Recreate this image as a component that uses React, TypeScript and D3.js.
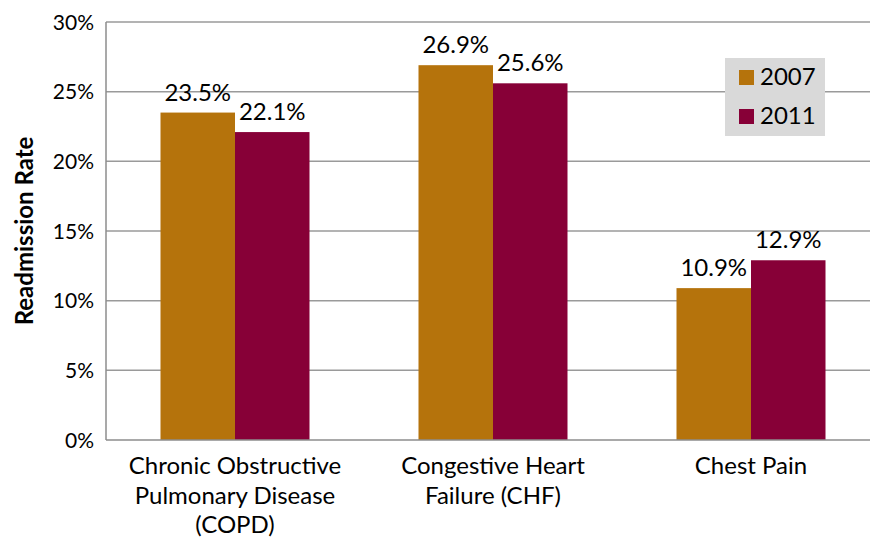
import React, { useEffect, useRef } from "react";
import * as d3 from "d3";

const categories = [
  ["Chronic Obstructive", "Pulmonary Disease", "(COPD)"],
  ["Congestive Heart", "Failure (CHF)"],
  ["Chest Pain"],
];
const seriesNames = ["2007", "2011"];
const values2007 = [23.5, 26.9, 10.9];
const values2011 = [22.1, 25.6, 12.9];
const yTicks = [0, 5, 10, 15, 20, 25, 30];
const colors = ["#b5730c", "#870037"];

const App = () => {
  const ref = useRef<HTMLDivElement>(null);

  useEffect(() => {
    const width = 870;
    const height = 538;
    const left = 106;
    const top = 22;
    const bottom = 440;
    const font = "Lato, 'Open Sans', sans-serif";

    d3.select(ref.current).select("svg").remove();

    const svg = d3
      .select(ref.current)
      .append("svg")
      .attr("width", width)
      .attr("height", height)
      .style("position", "absolute")
      .style("left", "0px")
      .style("top", "0px")
      .style("font-family", font);

    const keys = categories.map((c) => c.join(" "));
    const data = keys.map((k, i) => ({
      key: k,
      lines: categories[i],
      vals: [values2007[i], values2011[i]],
    }));

    const x0 = d3.scaleBand().domain(keys).range([left, 880]).padding(0);
    const x1 = d3
      .scaleBand()
      .domain(seriesNames)
      .range([54.5, x0.bandwidth() - 54.5])
      .padding(0);
    const y = d3.scaleLinear().domain([0, 30]).range([bottom, top]);

    // gridlines
    svg
      .append("g")
      .selectAll("line")
      .data(yTicks.filter((t) => t > 0))
      .enter()
      .append("line")
      .attr("x1", left)
      .attr("x2", width)
      .attr("y1", (d) => y(d))
      .attr("y2", (d) => y(d))
      .attr("stroke", "#9a9a9a")
      .attr("stroke-width", 1.5);

    // tick labels
    svg
      .append("g")
      .selectAll("text")
      .data(yTicks)
      .enter()
      .append("text")
      .attr("x", 94)
      .attr("y", (d) => y(d))
      .attr("dy", "0.36em")
      .attr("text-anchor", "end")
      .style("font-size", "21px")
      .text((d) => `${d}%`);

    // bars
    const groups = svg
      .append("g")
      .selectAll("g")
      .data(data)
      .enter()
      .append("g")
      .attr("transform", (d) => `translate(${x0(d.key)},0)`);

    groups
      .selectAll("rect")
      .data((d) => d.vals.map((v, i) => ({ s: seriesNames[i], v, i })))
      .enter()
      .append("rect")
      .attr("x", (d) => x1(d.s)!)
      .attr("y", (d) => y(d.v))
      .attr("width", x1.bandwidth())
      .attr("height", (d) => bottom - y(d.v))
      .attr("fill", (d) => colors[d.i]);

    groups
      .selectAll("text")
      .data((d) => d.vals.map((v, i) => ({ s: seriesNames[i], v, i })))
      .enter()
      .append("text")
      .attr("x", (d) => x1(d.s)! + x1.bandwidth() / 2)
      .attr("y", (d) => y(d.v) - 12)
      .attr("text-anchor", "middle")
      .style("font-size", "24px")
      .text((d) => `${d.v.toFixed(1)}%`);

    // axes lines
    svg
      .append("line")
      .attr("x1", left)
      .attr("x2", left)
      .attr("y1", top)
      .attr("y2", bottom)
      .attr("stroke", "#8c8c8c")
      .attr("stroke-width", 1.5);
    svg
      .append("line")
      .attr("x1", left)
      .attr("x2", width)
      .attr("y1", bottom)
      .attr("y2", bottom)
      .attr("stroke", "#8c8c8c")
      .attr("stroke-width", 1.5);

    // category labels
    const catText = svg
      .append("g")
      .selectAll("text")
      .data(data)
      .enter()
      .append("text")
      .attr("text-anchor", "middle")
      .style("font-size", "24px")
      .attr("x", (d) => x0(d.key)! + x0.bandwidth() / 2)
      .attr("y", 474);
    catText
      .selectAll("tspan")
      .data((d) => d.lines.map((l) => ({ l, cx: x0(d.key)! + x0.bandwidth() / 2 })))
      .enter()
      .append("tspan")
      .attr("x", (d) => d.cx)
      .attr("dy", (d, i) => (i === 0 ? 0 : 29.5))
      .text((d) => d.l);

    // y axis title
    svg
      .append("text")
      .attr("transform", `translate(33,${(top + bottom) / 2}) rotate(-90)`)
      .attr("text-anchor", "middle")
      .style("font-size", "24px")
      .style("font-weight", "700")
      .text("Readmission Rate");

    // legend
    const legend = svg.append("g").attr("transform", "translate(725,58)");
    legend
      .append("rect")
      .attr("width", 100)
      .attr("height", 78)
      .attr("fill", "#d9d9d9");
    const items = legend
      .selectAll("g")
      .data(seriesNames)
      .enter()
      .append("g")
      .attr("transform", (d, i) => `translate(14,${12 + i * 39})`);
    items
      .append("rect")
      .attr("width", 15)
      .attr("height", 15)
      .attr("fill", (d, i) => colors[i]);
    items
      .append("text")
      .attr("x", 21)
      .attr("y", 15)
      .style("font-size", "24px")
      .text((d) => d);
  }, []);

  return <div ref={ref}></div>;
};

export default App;
